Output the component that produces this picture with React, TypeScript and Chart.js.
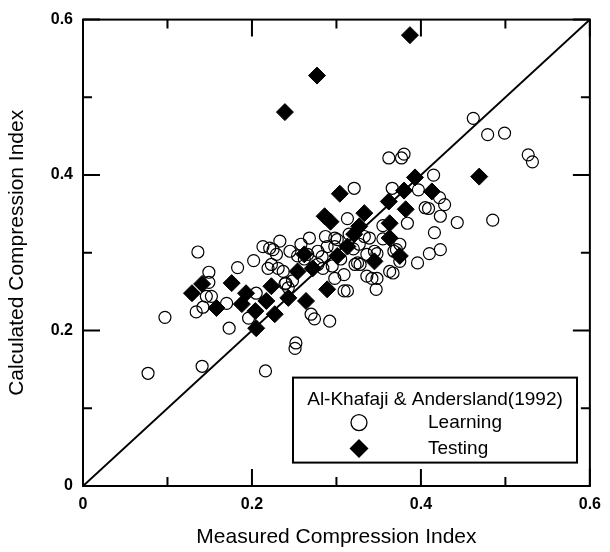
import React, { useEffect, useRef } from 'react';
import { Chart, registerables } from 'chart.js';

Chart.register(...registerables);

// ---- data ----
const learningMeasured = [
  0.077, 0.141, 0.097, 0.136, 0.149, 0.134, 0.173, 0.170, 0.183, 0.146,
  0.152, 0.202, 0.216, 0.252, 0.251, 0.233, 0.221, 0.225, 0.268, 0.287,
  0.205, 0.229, 0.223, 0.219, 0.231, 0.240, 0.243, 0.142, 0.196, 0.270,
  0.274, 0.292, 0.258, 0.301, 0.315, 0.289, 0.298, 0.278, 0.284, 0.298,
  0.309, 0.309, 0.336, 0.348, 0.328, 0.336, 0.342, 0.348, 0.347, 0.363,
  0.368, 0.321, 0.362, 0.377, 0.380, 0.366, 0.397, 0.415, 0.422, 0.428,
  0.405, 0.423, 0.443, 0.485, 0.384, 0.416, 0.313, 0.333, 0.423, 0.410,
  0.396, 0.375, 0.367, 0.313, 0.325, 0.339, 0.298, 0.327, 0.345, 0.371,
  0.375, 0.295, 0.322, 0.462, 0.479, 0.499, 0.527, 0.532, 0.409, 0.239,
  0.248, 0.237, 0.254, 0.266, 0.278, 0.245, 0.213, 0.149, 0.262, 0.283,
  0.305, 0.320, 0.355, 0.355,
];
const learningCalculated = [
  0.145, 0.154, 0.217, 0.301, 0.275, 0.224, 0.203, 0.235, 0.281, 0.244,
  0.244, 0.290, 0.148, 0.184, 0.177, 0.315, 0.306, 0.304, 0.319, 0.321,
  0.248, 0.298, 0.285, 0.280, 0.280, 0.261, 0.255, 0.230, 0.216, 0.221,
  0.215, 0.212, 0.311, 0.317, 0.324, 0.308, 0.308, 0.285, 0.280, 0.267,
  0.272, 0.251, 0.298, 0.299, 0.285, 0.270, 0.267, 0.267, 0.253, 0.276,
  0.302, 0.383, 0.422, 0.422, 0.427, 0.383, 0.381, 0.400, 0.371, 0.362,
  0.358, 0.347, 0.339, 0.342, 0.338, 0.326, 0.344, 0.321, 0.304, 0.299,
  0.287, 0.311, 0.274, 0.251, 0.287, 0.319, 0.319, 0.311, 0.302, 0.304,
  0.289, 0.283, 0.285, 0.473, 0.452, 0.454, 0.426, 0.417, 0.357, 0.260,
  0.264, 0.276, 0.296, 0.298, 0.302, 0.302, 0.308, 0.262, 0.292, 0.295,
  0.292, 0.305, 0.318, 0.335,
];
const testingMeasured = [
  0.387, 0.277, 0.239, 0.469, 0.393, 0.413, 0.380, 0.362, 0.304, 0.382,
  0.333, 0.286, 0.363, 0.293, 0.327, 0.363, 0.321, 0.313, 0.375, 0.345,
  0.301, 0.289, 0.272, 0.254, 0.262, 0.243, 0.264, 0.227, 0.223, 0.205,
  0.204, 0.188, 0.176, 0.158, 0.141, 0.129, 0.193, 0.217,
];
const testingCalculated = [
  0.580, 0.528, 0.481, 0.398, 0.397, 0.379, 0.380, 0.366, 0.376, 0.356,
  0.351, 0.347, 0.338, 0.340, 0.334, 0.319, 0.324, 0.308, 0.296, 0.289,
  0.296, 0.253, 0.280, 0.276, 0.298, 0.242, 0.238, 0.221, 0.257, 0.203,
  0.225, 0.234, 0.261, 0.229, 0.260, 0.248, 0.248, 0.238,
];
const equalityLine = [0, 0.6];
const majorTicks = [0, 0.2, 0.4, 0.6];
const minorTicks = [0.1, 0.3, 0.5];
const xTitle = 'Measured Compression Index';
const yTitle = 'Calculated Compression Index';
const legendTitle = 'Al-Khafaji & Andersland(1992)';
const seriesNames = ['Learning', 'Testing'];

const FONT = "Arial, 'Liberation Sans', sans-serif";
const fmt = (v: number) => (v === 0 ? '0' : Number(v).toFixed(1));

const framePlugin = {
  id: 'frameTicks',
  afterDatasetsDraw(chart: any) {
    const { ctx, chartArea, scales } = chart;
    const { left, right, top, bottom } = chartArea;
    const x = scales.x;
    const y = scales.y;
    ctx.save();
    ctx.strokeStyle = '#000';
    ctx.lineWidth = 2;
    ctx.strokeRect(left, top, right - left, bottom - top);
    const drawTick = (v: number, len: number) => {
      const px = x.getPixelForValue(v);
      const py = y.getPixelForValue(v);
      ctx.beginPath();
      ctx.moveTo(px, bottom);
      ctx.lineTo(px, bottom - len);
      ctx.moveTo(px, top);
      ctx.lineTo(px, top + len);
      ctx.moveTo(left, py);
      ctx.lineTo(left + len, py);
      ctx.moveTo(right, py);
      ctx.lineTo(right - len, py);
      ctx.stroke();
    };
    majorTicks.forEach((v) => drawTick(v, 17));
    minorTicks.forEach((v) => drawTick(v, 9));
    ctx.restore();
  },
};

const legendPlugin = {
  id: 'boxLegend',
  afterDraw(chart: any) {
    const { ctx, chartArea } = chart;
    const bx = chartArea.left + 210;
    const by = chartArea.top + 358;
    const bw = 284;
    const bh = 85;
    ctx.save();
    ctx.fillStyle = '#fff';
    ctx.fillRect(bx, by, bw, bh);
    ctx.strokeStyle = '#000';
    ctx.lineWidth = 2;
    ctx.strokeRect(bx, by, bw, bh);
    ctx.fillStyle = '#000';
    ctx.font = `19px ${FONT}`;
    ctx.textBaseline = 'middle';
    ctx.textAlign = 'center';
    ctx.fillText(legendTitle, bx + bw / 2, by + 22);
    ctx.textAlign = 'left';
    const mx = bx + 66;
    const tx = bx + 135;
    const y1 = by + 45;
    const y2 = by + 71;
    // Learning marker: open circle
    ctx.beginPath();
    ctx.lineWidth = 1.3;
    ctx.arc(mx, y1, 8, 0, Math.PI * 2);
    ctx.stroke();
    ctx.fillText(seriesNames[0], tx, y1);
    // Testing marker: filled diamond
    ctx.beginPath();
    ctx.moveTo(mx - 9.5, y2);
    ctx.lineTo(mx, y2 - 9.5);
    ctx.lineTo(mx + 9.5, y2);
    ctx.lineTo(mx, y2 + 9.5);
    ctx.closePath();
    ctx.fill();
    ctx.fillText(seriesNames[1], tx, y2);
    ctx.restore();
  },
};

export default function App() {
  const ref = useRef<HTMLCanvasElement>(null);
  useEffect(() => {
    if (!ref.current) return;
    const learning = learningMeasured.map((v, i) => ({ x: v, y: learningCalculated[i] }));
    const testing = testingMeasured.map((v, i) => ({ x: v, y: testingCalculated[i] }));
    const line = equalityLine.map((v) => ({ x: v, y: v }));
    const tickFont = { family: FONT, size: 16, weight: 'bold' as const };
    const chart = new Chart(ref.current, {
      type: 'scatter',
      data: {
        datasets: [
          {
            type: 'line',
            label: 'y = x',
            data: line,
            borderColor: '#000',
            borderWidth: 2,
            pointRadius: 0,
            fill: false,
            order: 3,
          } as any,
          {
            label: seriesNames[1],
            data: testing,
            pointStyle: 'rectRot',
            pointRadius: 8.5,
            backgroundColor: '#000',
            borderColor: '#000',
            borderWidth: 1,
            order: 2,
          },
          {
            label: seriesNames[0],
            data: learning,
            pointStyle: 'circle',
            pointRadius: 6,
            backgroundColor: 'rgba(0,0,0,0)',
            borderColor: '#000',
            borderWidth: 1.2,
            order: 1,
          },
        ],
      },
      options: {
        animation: false,
        responsive: true,
        maintainAspectRatio: false,
        layout: { padding: { top: 17, right: 15, left: 0, bottom: 0 } },
        plugins: {
          legend: { display: false },
          tooltip: { enabled: false },
        },
        scales: {
          x: {
            type: 'linear',
            position: 'bottom',
            min: 0,
            max: 0.6,
            afterBuildTicks: (s: any) => {
              s.ticks = majorTicks.map((v) => ({ value: v }));
            },
            afterFit: (s: any) => {
              s.height = 66;
            },
            ticks: {
              font: tickFont,
              color: '#000',
              padding: 9,
              maxRotation: 0,
              callback: (v: any) => fmt(v),
            },
            grid: { display: false, drawTicks: false },
            border: { display: false },
            title: {
              display: true,
              text: xTitle,
              color: '#000',
              font: { family: FONT, size: 21 },
              padding: { top: 0, bottom: 2 },
            },
          },
          y: {
            type: 'linear',
            position: 'left',
            min: 0,
            max: 0.6,
            afterBuildTicks: (s: any) => {
              s.ticks = majorTicks.map((v) => ({ value: v }));
            },
            afterFit: (s: any) => {
              s.width = 83;
            },
            ticks: {
              font: tickFont,
              color: '#000',
              padding: 10,
              callback: (v: any) => fmt(v),
            },
            grid: { display: false, drawTicks: false },
            border: { display: false },
            title: {
              display: true,
              text: yTitle,
              color: '#000',
              font: { family: FONT, size: 21 },
              padding: { top: 5, bottom: 0 },
            },
          },
        },
      },
      plugins: [framePlugin, legendPlugin],
    });
    return () => chart.destroy();
  }, []);
  return (
    <div style={{ position: 'absolute', left: 0, top: 0, width: 610, height: 552, background: '#fff' }}>
      <canvas ref={ref} />
    </div>
  );
}
